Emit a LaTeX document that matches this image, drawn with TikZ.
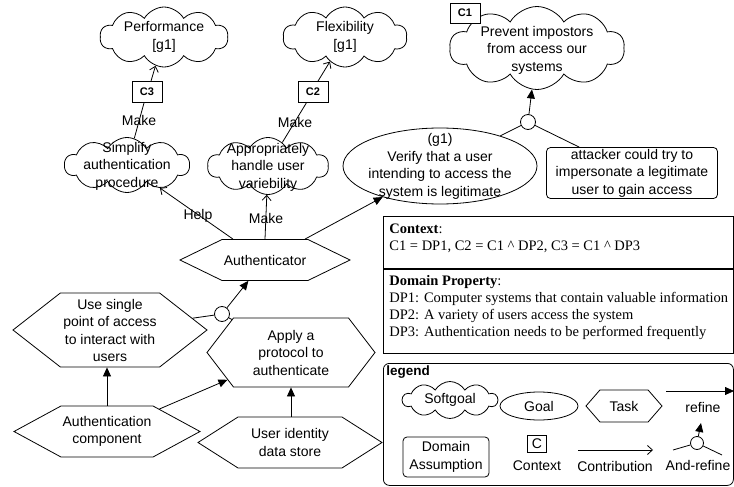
\documentclass[tikz,border=0pt]{standalone}
\usepackage{fontspec}
\setmainfont{Liberation Sans}
\newfontfamily\timesf{Liberation Serif}
\usetikzlibrary{shapes.symbols,shapes.geometric,arrows.meta}
\begin{document}
\begin{tikzpicture}[x=1pt,y=-1pt,line width=0.8pt,
  every node/.style={font=\fontsize{14}{17.5}\selectfont},
  soft/.style={cloud,draw,cloud puffs=10,cloud puff arc=120,cloud ignores aspect,inner sep=0pt},
  goal/.style={ellipse,draw,inner sep=0pt},
  task/.style={signal,signal to=east and west,draw,inner sep=0pt},
  txt/.style={align=center,inner sep=0pt},
  ctx/.style={draw,fill=white,inner sep=0pt,font=\fontsize{11}{13}\selectfont\bfseries},
  asm/.style={draw,rounded corners=4pt,align=center,inner sep=0pt},
  andc/.style={circle,draw,fill=white,inner sep=0pt,minimum size=15},
  contrib/.style={-{Straight Barb[length=5pt,width=9pt]}},
  refn/.style={-{Triangle[length=9pt,width=8pt]}},
  lbl/.style={inner sep=1pt},
  serif/.style={font=\timesf\fontsize{14.5}{17}\selectfont,align=left,inner sep=0pt,anchor=north west}
]
\useasboundingbox (0,0) rectangle (734,487);

% top softgoals
\node[soft,minimum width=128,minimum height=60] (perf) at (164,37) {};
\node[txt] (perfT) at (perf.center) {Performance\\{[g1]}};
\node[soft,minimum width=124,minimum height=60] (flex) at (345,37) {};
\node[txt] (flexT) at (flex.center) {Flexibility\\{[g1]}};
\node[soft,minimum width=175,minimum height=83] (prev) at (537,48) {};
\node[txt] (prevT) at (537,50) {Prevent impostors\\from access our\\systems};
\node[ctx,minimum width=30,minimum height=20] (c1) at (465,13) {C1};

% contexts
\node[ctx,minimum width=30,minimum height=21] (c3) at (147,92) {C3};
\node[ctx,minimum width=30,minimum height=21] (c2) at (313,92) {C2};

% middle softgoals
\node[soft,minimum width=125,minimum height=55] (simp) at (127,165) {};
\node[txt] (simpT) at (127,166) {Simplify\\authentication\\procedure};
\node[soft,minimum width=121,minimum height=57] (appr) at (268,166) {};
\node[txt] (apprT) at (268,167) {Appropriately\\handle user\\variebility};

% goal g1
\node[goal,minimum width=194,minimum height=76] (g1) at (440,166) {};
\node[txt] (g1T) at (440,166.5) {(g1)\\Verify that a user\\intending to access the\\system is legitimate};

% domain assumption
\node[asm,minimum width=171,minimum height=51] (att) at (632,173) {attacker could try to\\impersonate a legitimate\\user to gain access};

% and-refine top
\node[andc] (and1) at (528,122) {};
\draw[refn] (and1) -- (prev);
\draw (and1) -- (g1);
\draw (and1) -- (att);

% authenticator
\node[task,minimum width=170,minimum height=41,signal pointer angle=52] (auth) at (265,260) {};
\node[txt] (authT) at (265,260) {Authenticator};

\draw[contrib] ([xshift=-32pt]auth.north) -- (simp);
\node[lbl] (help) at (198,216) {Help};
\draw[contrib] (auth.north) -- (appr);
\node[lbl] (mk0) at (266,218) {Make};
\draw[refn] ([xshift=40pt]auth.north) -- (g1);

\draw (simp) -- (c3);
\node[lbl] (mk1) at (139,120) {Make};
\draw[contrib] ([xshift=4pt]c3.north) -- (perf);
\draw (appr) -- (c2);
\node[lbl] (mk2) at (295,122) {Make};
\draw[contrib] ([xshift=5pt]c2.north) -- (flex);

% tasks lower
\node[task,minimum width=194,minimum height=74,signal pointer angle=76] (use) at (110,330) {};
\node[txt] (useT) at (110,330.5) {Use single\\point of access\\to interact with\\users};
\node[task,minimum width=168,minimum height=69,signal pointer angle=105] (apply) at (291,352.5) {};
\node[txt] (applyT) at (291,352.5) {Apply a\\protocol to\\authenticate};
\node[task,minimum width=186,minimum height=51,signal pointer angle=57] (acomp) at (107,431.5) {};
\node[txt] (acompT) at (107,431.5) {Authentication\\component};
\node[task,minimum width=184,minimum height=51,signal pointer angle=65] (uid) at (290,442.5) {};
\node[txt] (uidT) at (290,442.5) {User identity\\data store};

\node[andc] (and2) at (222,314) {};
\draw[refn] (and2) -- (auth);
\draw (use) -- (and2);
\draw (and2) -- (apply);

\draw[refn] (acomp.north) -- (acomp.north |- use.south);
\draw[refn] (acomp) -- (apply);
\draw[refn] (uid.north -| apply.south) -- (apply.south);

% context box
\node[draw,minimum width=350,minimum height=52,anchor=north west,inner sep=0pt] (ctxA) at (383,216) {};
\node[draw,minimum width=350,minimum height=84,anchor=north west,inner sep=0pt] (ctxB) at (ctxA.south west) {};
\node[serif] (ctxAT) at (389,223) {\textbf{Context}:\\C1 = DP1, C2 = C1 \textasciicircum\ DP2, C3 = C1 \textasciicircum\ DP3};
\node[serif] (ctxBT) at (389,275) {\textbf{Domain Property}:\\DP1: Computer systems that contain valuable information\\DP2: A variety of users access the system\\DP3: Authentication needs to be performed frequently};

% legend
\node[draw,rounded corners=6pt,minimum width=350,minimum height=122,anchor=north west,inner sep=0pt] (leg) at (383,363) {};
\node[anchor=north west,inner sep=0pt,font=\bfseries\fontsize{13.5}{15}\selectfont] (legT) at (386,365) {legend};
\node[soft,minimum width=95,minimum height=37] (lsoft) at (450,400) {};
\node[txt] (lsoftT) at (450,400) {Softgoal};
\node[goal,minimum width=78,minimum height=28] (lgoal) at (539,406) {Goal};
\node[task,minimum width=76,minimum height=32,signal pointer angle=98] (ltask) at (624,406) {};
\node[txt] (ltaskT) at (624,406) {Task};
\coordinate (rfA) at (666,391);
\coordinate (rfB) at (734,391);
\draw[refn] (rfA) -- (rfB);
\node[lbl] (rfT) at (703,407) {refine};
\node[asm,minimum width=86,minimum height=40] (lasm) at (446,457) {Domain\\Assumption};
\node[draw,inner sep=0pt,minimum width=19,minimum height=17] (lctx) at (537,444) {C};
\node[lbl] (lctxT) at (537,466) {Context};
\coordinate (coA) at (578,450);
\coordinate (coB) at (653,450);
\draw[contrib] (coA) -- (coB);
\node[lbl] (coT) at (615,466) {Contribution};
\node[andc,minimum size=13] (land) at (697,443) {};
\coordinate (laT) at (701,423);
\coordinate (laL) at (673,450);
\coordinate (laR) at (722,455);
\draw[refn] (land) -- (laT);
\draw (laL) -- (land);
\draw (land) -- (laR);
\node[lbl] (laTx) at (698,465) {And-refine};
\end{tikzpicture}
\end{document}
